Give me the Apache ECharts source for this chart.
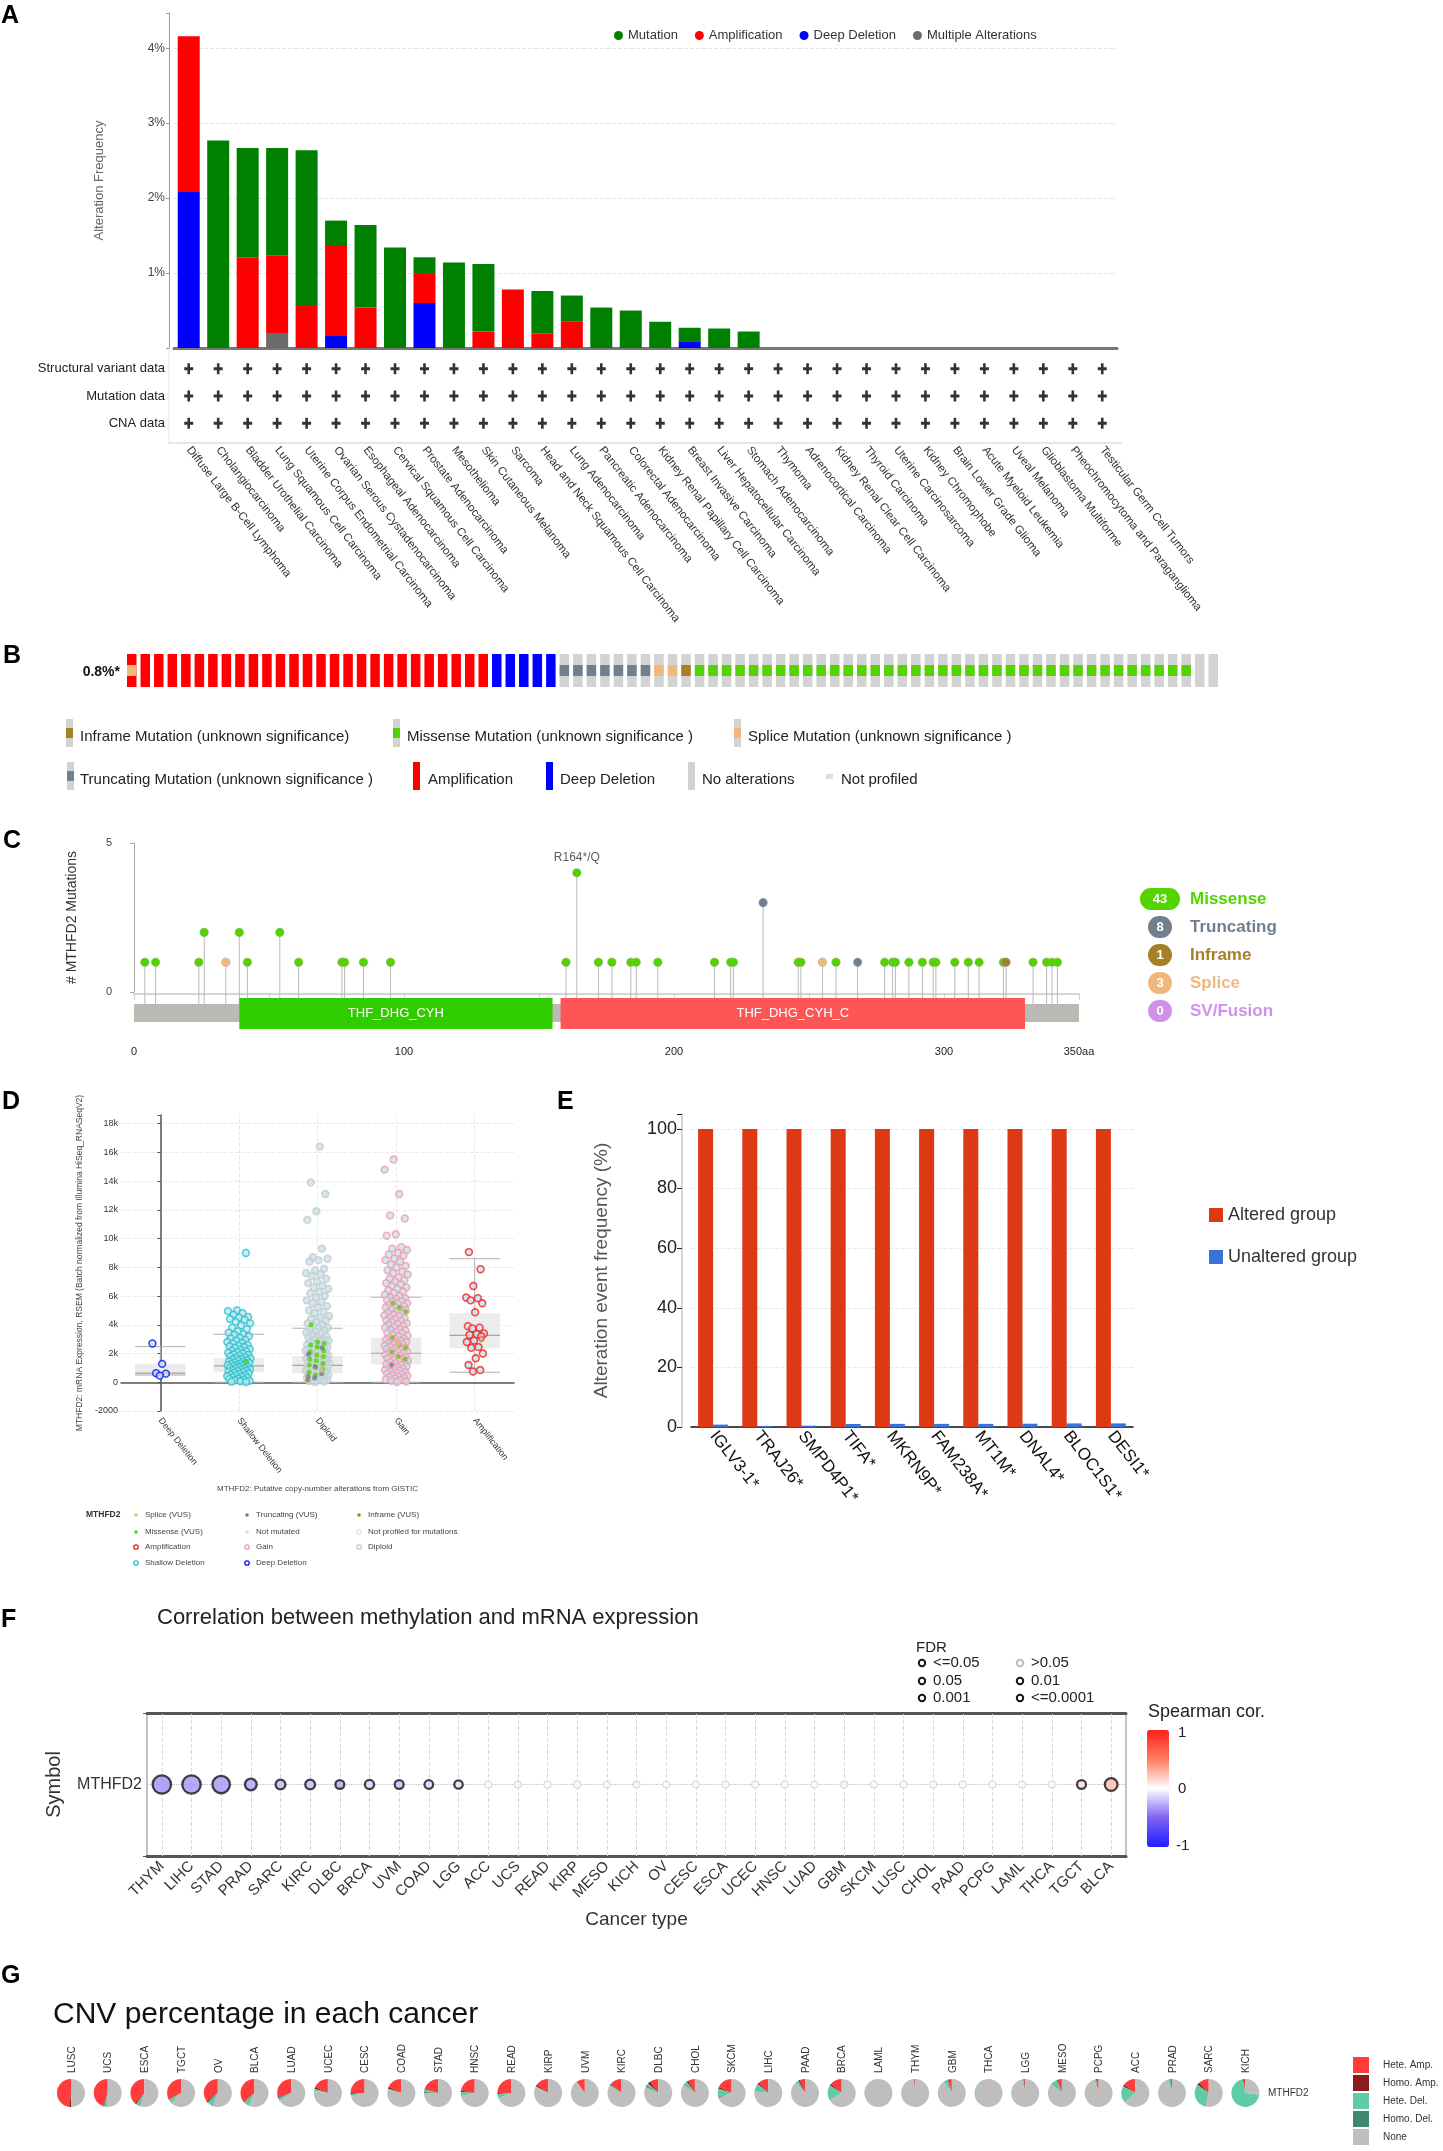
<!DOCTYPE html>
<html><head><meta charset="utf-8">
<script src="https://cdn.jsdelivr.net/npm/echarts@6.0.0/dist/echarts.min.js"></script>
<style>html,body{margin:0;padding:0;background:#fff}#c{width:1443px;height:2151px}</style>
</head><body><div id="c"></div><script>
// ---------------- Panel A data ----------------
const aCategories = ['Diffuse Large B-Cell Lymphoma','Cholangiocarcinoma','Bladder Urothelial Carcinoma','Lung Squamous Cell Carcinoma','Uterine Corpus Endometrial Carcinoma','Ovarian Serous Cystadenocarcinoma','Esophageal Adenocarcinoma','Cervical Squamous Cell Carcinoma','Prostate Adenocarcinoma','Mesothelioma','Skin Cutaneous Melanoma','Sarcoma','Head and Neck Squamous Cell Carcinoma','Lung Adenocarcinoma','Pancreatic Adenocarcinoma','Colorectal Adenocarcinoma','Kidney Renal Papillary Cell Carcinoma','Breast Invasive Carcinoma','Liver Hepatocellular Carcinoma','Stomach Adenocarcinoma','Thymoma','Adrenocortical Carcinoma','Kidney Renal Clear Cell Carcinoma','Thyroid Carcinoma','Uterine Carcinosarcoma','Kidney Chromophobe','Brain Lower Grade Glioma','Acute Myeloid Leukemia','Uveal Melanoma','Glioblastoma Multiforme','Pheochromocytoma and Paraganglioma','Testicular Germ Cell Tumors'];
const aMutation      = [0, 2.77, 1.46, 1.44, 2.08, 0.34, 1.10, 1.34, 0.21, 1.14, 0.90, 0, 0.57, 0.35, 0.54, 0.50, 0.35, 0.18, 0.26, 0.22, 0,0,0,0,0,0,0,0,0,0,0,0];
const aAmplification = [2.08, 0, 1.21, 1.03, 0.56, 1.20, 0.54, 0, 0.40, 0, 0.22, 0.78, 0.19, 0.35, 0, 0, 0, 0, 0, 0, 0,0,0,0,0,0,0,0,0,0,0,0];
const aDeepDeletion  = [2.08, 0, 0, 0, 0, 0.16, 0, 0, 0.60, 0, 0, 0, 0, 0, 0, 0, 0, 0.09, 0, 0, 0,0,0,0,0,0,0,0,0,0,0,0];
const aMultiple      = [0, 0, 0, 0.20, 0, 0, 0, 0, 0, 0, 0, 0, 0, 0, 0, 0, 0, 0, 0, 0, 0,0,0,0,0,0,0,0,0,0,0,0];
const aRows = ['CNA data', 'Mutation data', 'Structural variant data'];
const aProfiled = ['++++++++++++++++++++++++++++++++', '++++++++++++++++++++++++++++++++', '++++++++++++++++++++++++++++++++'];
const aTicks = ['1%', '2%', '3%', '4%'];

// ---------------- Panel B data ----------------
const bLabel = '0.8%*';
const bCnaRuns = [['AMP', 27], ['HOMDEL', 5], ['NONE', 49]];
const bMutRuns = [['SPLICE', 1], ['', 31], ['TRUNC', 7], ['SPLICE', 2], ['INFRAME', 1], ['MISSENSE', 37], ['', 2]];

// ---------------- Panel C data ----------------
const cLength = 350;
const cPositions = [4, 8, 24, 26, 34, 39, 42, 54, 61, 77, 78, 85, 95, 160, 164, 172, 177, 184, 186, 194, 215, 221, 222, 233, 246, 247, 255, 260, 268, 278, 281, 282, 287, 292, 296, 297, 304, 309, 313, 322, 323, 333, 338, 340, 342];
const cCounts    = [1, 1, 1, 2, 1, 2, 1, 2, 1, 1, 1, 1, 1, 1, 4, 1, 1, 1, 1, 1, 1, 1, 1, 3, 1, 1, 1, 1, 1, 1, 1, 1, 1, 1, 1, 1, 1, 1, 1, 1, 1, 1, 1, 1, 1];
const cTypes     = ['M','M','M','M','S','M','M','M','M','M','M','M','M','M','M','M','M','M','M','M','M','M','M','T','M','M','S','M','T','M','M','M','M','M','M','M','M','M','M','M','I','M','M','M','M'];
const cAnnotation = ['R164*/Q', 164, 4];
const cDomains = [['THF_DHG_CYH', 39, 155], ['THF_DHG_CYH_C', 158, 330]];
const cLegendNames = ['Missense', 'Truncating', 'Inframe', 'Splice', 'SV/Fusion'];
const cLegendCounts = [43, 8, 1, 3, 0];

// ---------------- Panel D data (values in thousands) ----------------
const dCategories = ['Deep Deletion', 'Shallow Deletion', 'Diploid', 'Gain', 'Amplification'];
const dBoxes = [[0.50, 0.50, 0.63, 1.28, 2.48], [0, 0.70, 1.14, 1.67, 3.34], [0, 0.63, 1.18, 1.83, 3.76], [0, 1.23, 2.02, 3.09, 5.92], [0.70, 2.37, 3.27, 4.80, 8.60]];
const dDeepVals = [2.7, 1.28, 0.63, 0.6, 0.46];
const dShallowVals = [9.0, 5.0, 4.95, 4.8, 4.7, 4.55, 4.5, 4.4, 4.35, 4.2, 4.1, 3.95, 3.8, 3.7, 3.55, 3.45, 3.35, 3.3, 3.2, 3.1, 3.05, 2.95, 2.9, 2.8, 2.75, 2.7, 2.6, 2.55, 2.5, 2.45, 2.4, 2.3, 2.25, 2.2, 2.15, 2.1, 2.05, 2.0, 1.95, 1.9, 1.85, 1.8, 1.75, 1.7, 1.66, 1.62, 1.58, 1.55, 1.5, 1.46, 1.42, 1.38, 1.35, 1.3, 1.27, 1.24, 1.2, 1.17, 1.14, 1.1, 1.07, 1.04, 1.0, 0.97, 0.94, 0.9, 0.87, 0.84, 0.8, 0.77, 0.74, 0.7, 0.66, 0.62, 0.58, 0.54, 0.5, 0.46, 0.42, 0.38, 0.34, 0.3, 0.26, 0.22, 0.18, 0.14, 0.1, 0.07, 0.04, 0.02];
const dDiploidVals = [16.4, 13.9, 13.1, 11.9, 11.3, 9.3, 8.7, 8.6, 8.5, 8.4, 7.9, 7.8, 7.6, 7.5, 7.4, 7.2, 7.0, 6.9, 6.7, 6.6, 6.5, 6.3, 6.2, 6.0, 5.9, 5.7, 5.6, 5.5, 5.3, 5.2, 5.0, 4.9, 4.8, 4.6, 4.5, 4.4, 4.3, 4.2, 4.1, 4.0, 3.9, 3.8, 3.75, 3.7, 3.6, 3.5, 3.45, 3.4, 3.3, 3.2, 3.15, 3.1, 3.0, 2.95, 2.9, 2.85, 2.8, 2.7, 2.65, 2.6, 2.55, 2.5, 2.45, 2.4, 2.35, 2.3, 2.25, 2.2, 2.15, 2.1, 2.05, 2.0, 1.96, 1.92, 1.88, 1.84, 1.8, 1.76, 1.72, 1.68, 1.64, 1.6, 1.56, 1.52, 1.48, 1.44, 1.4, 1.36, 1.32, 1.28, 1.24, 1.2, 1.16, 1.12, 1.08, 1.04, 1.0, 0.96, 0.92, 0.88, 0.84, 0.8, 0.76, 0.72, 0.68, 0.64, 0.6, 0.56, 0.52, 0.48, 0.44, 0.4, 0.36, 0.32, 0.28, 0.24, 0.2, 0.16, 0.12, 0.08, 0.05, 0.02];
const dGainVals = [15.5, 14.8, 13.1, 11.6, 11.4, 10.3, 10.2, 9.4, 9.3, 9.2, 9.0, 8.9, 8.8, 8.6, 8.5, 8.4, 8.2, 8.1, 8.0, 7.8, 7.7, 7.6, 7.5, 7.3, 7.2, 7.1, 7.0, 6.9, 6.8, 6.7, 6.6, 6.5, 6.4, 6.3, 6.2, 6.1, 6.0, 5.9, 5.85, 5.8, 5.7, 5.65, 5.6, 5.5, 5.45, 5.4, 5.3, 5.25, 5.2, 5.1, 5.05, 5.0, 4.9, 4.85, 4.8, 4.7, 4.65, 4.6, 4.5, 4.45, 4.4, 4.3, 4.25, 4.2, 4.1, 4.05, 4.0, 3.9, 3.85, 3.8, 3.7, 3.65, 3.6, 3.5, 3.45, 3.4, 3.3, 3.25, 3.2, 3.1, 3.05, 3.0, 2.95, 2.9, 2.85, 2.8, 2.75, 2.7, 2.65, 2.6, 2.55, 2.5, 2.45, 2.4, 2.35, 2.3, 2.25, 2.2, 2.15, 2.1, 2.05, 2.0, 1.95, 1.9, 1.85, 1.8, 1.75, 1.7, 1.65, 1.6, 1.55, 1.5, 1.45, 1.4, 1.35, 1.3, 1.25, 1.2, 1.15, 1.1, 1.05, 1.0, 0.95, 0.9, 0.85, 0.8, 0.75, 0.7, 0.65, 0.6, 0.55, 0.5, 0.45, 0.4, 0.35, 0.3, 0.25, 0.2, 0.15, 0.1, 0.05, 0.02];
const dAmpVals = [9.06, 7.87, 6.7, 5.9, 5.85, 5.7, 5.5, 4.87, 3.9, 3.8, 3.75, 3.4, 3.35, 3.3, 3.2, 2.9, 2.8, 2.45, 2.4, 2.0, 1.67, 1.2, 0.85, 0.75];
const dMutGroup = [1, 2,2,2,2,2,2,2,2,2,2,2,2,2,2,2,2,2, 2,2,2,2,2,2, 2, 2, 3,3,3,3,3,3,3,3,3, 3, 3, 4];
const dMutVals  = [1.45, 4.0,2.8,2.7,2.6,2.45,2.2,2.1,1.9,1.8,1.6,1.5,1.3,1.2,1.05,0.9,0.7,0.5, 2.4,1.95,1.1,0.6,0.4,0.3, 0.85, 0.15, 5.5,5.2,4.9,3.1,2.6,2.4,2.1,1.8,1.6, 1.2, 2.7, 3.0];
const dMutTypes = ['M', 'M','M','M','M','M','M','M','M','M','M','M','M','M','M','M','M','M', 'T','T','T','T','T','T', 'S', 'I', 'M','M','M','M','M','M','M','M','M', 'T', 'S', 'S'];

// ---------------- Panel E data ----------------
const eGenes = ['IGLV3-1*', 'TRAJ26*', 'SMPD4P1*', 'TIFA*', 'MKRN9P*', 'FAM238A*', 'MT1M*', 'DNAL4*', 'BLOC1S1*', 'DESI1*'];
const eAltered = [100, 100, 100, 100, 100, 100, 100, 100, 100, 100];
const eUnaltered = [0.8, 0.35, 0.45, 1.0, 1.05, 1.05, 1.05, 1.1, 1.2, 1.2];

// ---------------- Panel F data ----------------
const fCancers = ['THYM','LIHC','STAD','PRAD','SARC','KIRC','DLBC','BRCA','UVM','COAD','LGG','ACC','UCS','READ','KIRP','MESO','KICH','OV','CESC','ESCA','UCEC','HNSC','LUAD','GBM','SKCM','LUSC','CHOL','PAAD','PCPG','LAML','THCA','TGCT','BLCA'];
const fCor = [-0.36, -0.35, -0.34, -0.30, -0.24, -0.22, -0.28, -0.14, -0.20, -0.12, -0.10, 0.02, -0.03, 0.01, -0.02, 0.03, -0.04, 0.01, -0.01, 0.02, -0.02, 0.01, 0.0, -0.03, 0.02, 0.01, -0.02, 0.03, 0.0, 0.02, 0.01, 0.12, 0.26];
const fFdr = [1e-12, 1e-12, 1e-11, 1e-5, 1e-3, 1e-3, 0.01, 0.005, 0.01, 0.02, 0.03, 0.4, 0.6, 0.5, 0.3, 0.7, 0.5, 0.8, 0.9, 0.6, 0.5, 0.7, 0.9, 0.4, 0.6, 0.8, 0.5, 0.3, 0.9, 0.6, 0.7, 0.01, 1e-6];

// ---------------- Panel G data ----------------
const gCancers = ['LUSC','UCS','ESCA','TGCT','OV','BLCA','LUAD','UCEC','CESC','COAD','STAD','HNSC','READ','KIRP','UVM','KIRC','DLBC','CHOL','SKCM','LIHC','PAAD','BRCA','LAML','THYM','GBM','THCA','LGG','MESO','PCPG','ACC','PRAD','SARC','KICH'];
const gKinds = ['Hete. Amp.', 'Homo. Amp.', 'Hete. Del.', 'Homo. Del.', 'None'];
const gHeteAmp = [0.48,0.45,0.38,0.32,0.35,0.36,0.30,0.18,0.25,0.18,0.20,0.22,0.25,0.15,0.10,0.14,0.10,0.08,0.18,0.12,0.06,0.14,0,0.01,0.04,0.005,0.01,0.05,0.02,0.15,0.015,0.12,0.02];
const gHomoAmp = [0.02,0.01,0.02,0.01,0.02,0.01,0.01,0.02,0.01,0.02,0.01,0.02,0.01,0.02,0,0.01,0.03,0.02,0.02,0.02,0.02,0.02,0,0.005,0.01,0.005,0.01,0.01,0.01,0.02,0.005,0.03,0.01];
const gHeteDel = [0.01,0.03,0.04,0.05,0.06,0.06,0.04,0.02,0.03,0.01,0.03,0.04,0.05,0.01,0,0.02,0.03,0.04,0.10,0.08,0.04,0.16,0,0,0.05,0,0.02,0.06,0.02,0.18,0.03,0.30,0.70];
const gHomoDel = [0,0.005,0.01,0,0.01,0.005,0,0.005,0,0,0.01,0.005,0,0,0,0,0.02,0.01,0.01,0.01,0,0.01,0,0,0,0,0,0.01,0,0.01,0,0.01,0];

// ================= build =================
const FONT = '"Liberation Sans", Arial, Helvetica, sans-serif';
const chart = echarts.init(document.getElementById('c'), null, {renderer: 'canvas'});

const bCna = [], bMut = [];
bCnaRuns.forEach(([t, n]) => { for (let k = 0; k < n; k++) bCna.push(t); });
bMutRuns.forEach(([t, n]) => { for (let k = 0; k < n; k++) bMut.push(t); });
const bIdx = bCna.map((_, i) => String(i));
const bCnaColors = {AMP: '#ff0000', HOMDEL: '#0000ff', NONE: '#d3d3d3'};
const bMutColors = {MISSENSE: '#53d400', TRUNC: '#708090', SPLICE: '#f0b87b', INFRAME: '#a68028'};
const cTypeColors = {M: '#53d400', T: '#708090', S: '#f0b87b', I: '#a68028'};
const cLegendColors = ['#53d400', '#708090', '#a68028', '#f0b87b', '#ce92e8'];
const dRingColors = ['#1010ff', '#27c4cc', '#c9c9c9', '#f59aac', '#ff1a1a'];
const dSpread = [0.1, 0.15, 0.15, 0.15, 0.12];
const dSets = [dDeepVals, dShallowVals, dDiploidVals, dGainVals, dAmpVals];
const gColors = ['#ff3b3b', '#8b1c1c', '#5fcca5', '#3f8a6e', '#bebebe'];
const jitter = (j, w) => (((j * 0.6180339887) % 1) - 0.5) * 2 * w;

const series = [];
// A bars
[['Deep Deletion', aDeepDeletion, '#0000ff'], ['Multiple Alterations', aMultiple, '#6b6b6b'], ['Amplification', aAmplification, '#ff0000'], ['Mutation', aMutation, '#008000']].forEach(([n, d, c]) => {
  series.push({type: 'bar', name: n, xAxisIndex: 0, yAxisIndex: 0, stack: 'a', barWidth: 22, data: d, itemStyle: {color: c}, silent: true});
});
// A plus grid
const plusData = [];
aProfiled.forEach((s, r) => { for (let c = 0; c < s.length; c++) if (s[c] === '+') plusData.push([c, r]); });
series.push({type: 'scatter', xAxisIndex: 1, yAxisIndex: 1, data: plusData, symbol: 'path://M3.2,0H5.8V3.6H9V6.4H5.8V10H3.2V6.4H0V3.6H3.2Z', symbolSize: [9, 11], itemStyle: {color: '#000'}, silent: true});
// B
series.push({type: 'bar', xAxisIndex: 2, yAxisIndex: 2, barWidth: 9.5, barGap: '-100%', silent: true,
  data: bCna.map(t => ({value: 3, itemStyle: {color: bCnaColors[t]}}))});
series.push({type: 'bar', xAxisIndex: 2, yAxisIndex: 2, barWidth: 9.5, barGap: '-100%', stack: 'm', silent: true,
  data: bMut.map(t => t ? 1 : 0), itemStyle: {color: 'rgba(0,0,0,0)'}});
series.push({type: 'bar', xAxisIndex: 2, yAxisIndex: 2, barWidth: 9.5, barGap: '-100%', stack: 'm', silent: true,
  data: bMut.map(t => t ? {value: 1, itemStyle: {color: bMutColors[t]}} : 0)});
// C lollipops
series.push({type: 'custom', xAxisIndex: 3, yAxisIndex: 3, clip: false, z: 3, silent: true,
  data: cPositions.map((p, i) => [p, cCounts[i]]),
  renderItem: (params, api) => {
    const top = api.coord([api.value(0), api.value(1)]);
    const base = api.coord([api.value(0), -0.4]);
    const col = cTypeColors[cTypes[params.dataIndex]];
    return {type: 'group', children: [
      {type: 'line', shape: {x1: top[0], y1: base[1], x2: top[0], y2: top[1]}, style: {stroke: '#b8b8b8', lineWidth: 1}},
      {type: 'circle', shape: {cx: top[0], cy: top[1], r: 4.3}, style: {fill: col, stroke: '#a0a0a0', lineWidth: 0.4}}
    ]};
  }});
series.push({type: 'scatter', xAxisIndex: 3, yAxisIndex: 3, symbolSize: 1, itemStyle: {color: 'rgba(0,0,0,0)'}, silent: true,
  data: [[cAnnotation[1], cAnnotation[2]]],
  label: {show: true, formatter: cAnnotation[0], position: 'top', distance: 9, fontSize: 12, color: '#333', fontFamily: FONT}});
// C backbone + domains
series.push({type: 'custom', xAxisIndex: 4, yAxisIndex: 4, clip: false, z: 2, silent: true, data: [[0, cLength]],
  renderItem: (params, api) => {
    const a = api.coord([api.value(0), 10]), b = api.coord([api.value(1), 28]);
    return {type: 'rect', shape: {x: a[0], y: a[1], width: b[0] - a[0], height: b[1] - a[1]}, style: {fill: '#bbbbb5'}};
  }});
series.push({type: 'custom', xAxisIndex: 4, yAxisIndex: 4, clip: false, z: 5, silent: true,
  data: cDomains.map(d => [d[1], d[2]]),
  renderItem: (params, api) => {
    const a = api.coord([api.value(0), 4]), b = api.coord([api.value(1), 35]);
    const col = params.dataIndex === 0 ? '#2fcc00' : '#ff5555';
    return {type: 'group', children: [
      {type: 'rect', shape: {x: a[0], y: a[1], width: b[0] - a[0], height: b[1] - a[1]}, style: {fill: col}},
      {type: 'text', style: {text: cDomains[params.dataIndex][0], x: (a[0] + b[0]) / 2, y: (a[1] + b[1]) / 2, fill: '#fff', fontSize: 13, fontFamily: FONT, align: 'center', verticalAlign: 'middle'}}
    ]};
  }});
// D boxes
series.push({type: 'custom', xAxisIndex: 6, yAxisIndex: 5, z: 1, silent: true,
  data: dBoxes.map((b, i) => [i].concat(b)),
  renderItem: (params, api) => {
    const i = api.value(0), hw = 0.32;
    const q1 = api.coord([i - hw, api.value(2)]), q3 = api.coord([i + hw, api.value(4)]);
    const med = api.coord([i, api.value(3)]), lo = api.coord([i, api.value(1)]), hi = api.coord([i, api.value(5)]);
    const xl = q1[0], xr = q3[0], st = {stroke: '#b0b0b0', lineWidth: 1};
    return {type: 'group', children: [
      {type: 'line', shape: {x1: med[0], y1: lo[1], x2: med[0], y2: hi[1]}, style: st},
      {type: 'rect', shape: {x: xl, y: q3[1], width: xr - xl, height: q1[1] - q3[1]}, style: {fill: '#ececec'}},
      {type: 'line', shape: {x1: xl, y1: med[1], x2: xr, y2: med[1]}, style: {stroke: '#a5a5a5', lineWidth: 1.2}},
      {type: 'line', shape: {x1: xl, y1: lo[1], x2: xr, y2: lo[1]}, style: st},
      {type: 'line', shape: {x1: xl, y1: hi[1], x2: xr, y2: hi[1]}, style: st}
    ]};
  }});
dSets.forEach((vals, g) => {
  const s = {type: 'scatter', xAxisIndex: 6, yAxisIndex: 5, z: 3, silent: true, symbolSize: 6.8,
    data: vals.map((v, j) => [g + jitter(j + g * 11, dSpread[g]), v]),
    itemStyle: {color: '#c2e3ef', borderColor: dRingColors[g], borderWidth: 1.6}};
  if (g === 0) s.markLine = {silent: true, symbol: ['none', 'none'], label: {show: false}, z: 0,
    lineStyle: {type: 'dashed', color: '#e8e8e8', width: 1}, data: dCategories.map((_, k) => ({xAxis: k}))};
  series.push(s);
});
series.push({type: 'scatter', xAxisIndex: 6, yAxisIndex: 5, z: 4, silent: true, symbolSize: 5,
  data: dMutVals.map((v, j) => ({value: [dMutGroup[j] + jitter(j * 7 + 3, dSpread[dMutGroup[j]] * 0.85), v],
    itemStyle: {color: cTypeColors[dMutTypes[j]], borderColor: dMutGroup[j] === 2 ? 'rgba(0,0,0,0)' : dRingColors[dMutGroup[j]], borderWidth: 1}}))});
// E
series.push({type: 'bar', name: 'Altered group', xAxisIndex: 7, yAxisIndex: 6, data: eAltered, barWidth: 15, barGap: '0%', itemStyle: {color: '#dc3914'}, silent: true});
series.push({type: 'bar', name: 'Unaltered group', xAxisIndex: 7, yAxisIndex: 6, data: eUnaltered, barWidth: 15, barGap: '0%', itemStyle: {color: '#3b72d8'}, silent: true});
// F
const fIdx = series.length;
series.push({type: 'scatter', xAxisIndex: 8, yAxisIndex: 7, z: 3, silent: true,
  data: fCancers.map((c, i) => {
    const sig = fFdr[i] <= 0.05;
    return {value: [i, 0, fCor[i], fFdr[i]], symbolSize: 7 + Math.min(-Math.log10(fFdr[i]), 12) * 0.95,
      itemStyle: {borderColor: sig ? '#151515' : '#c8c8c8', borderWidth: sig ? 2.3 : 1}};
  }),
  markLine: {silent: true, symbol: ['none', 'none'], label: {show: false}, z: 1,
    data: fCancers.map(c => ({xAxis: c, lineStyle: {type: 'dashed', color: '#dadada', width: 1}}))
      .concat([{yAxis: 'MTHFD2', lineStyle: {type: 'dotted', color: '#bdbdbd', width: 1.2}}])}});
// G pies
gCancers.forEach((c, i) => {
  const v = [gHeteAmp[i], gHomoAmp[i], gHeteDel[i], gHomoDel[i]];
  v.push(Math.max(0, 1 - v.reduce((a, b) => a + b, 0)));
  series.push({type: 'pie', center: [71 + 36.7 * i, 2093], radius: [0, 14], startAngle: 90, clockwise: false,
    silent: true, label: {show: false}, labelLine: {show: false}, itemStyle: {borderWidth: 0},
    data: gKinds.map((k, j) => ({name: k, value: v[j], itemStyle: {color: gColors[j]}}))});
});

// ---------------- graphic ----------------
const gfx = [];
const T = (x, y, text, o = {}) => gfx.push({type: 'text', x, y, rotation: o.rot || 0, silent: true,
  style: {text, fill: o.color || '#222', fontSize: o.size || 12, fontFamily: FONT, fontWeight: o.weight || 'normal',
    align: o.align || 'left', verticalAlign: o.va || 'middle'}});
const R = (x, y, w, h, fill, r) => gfx.push({type: 'rect', silent: true, shape: {x, y, width: w, height: h, r: r || 0}, style: {fill}});
const L = (x1, y1, x2, y2, stroke, w) => gfx.push({type: 'line', silent: true, shape: {x1, y1, x2, y2}, style: {stroke, lineWidth: w || 1}});
const C = (cx, cy, r, fill, stroke, w) => gfx.push({type: 'circle', silent: true, shape: {cx, cy, r}, style: {fill, stroke, lineWidth: w || 1}});

// panel letters
[['A', 1, 16], ['B', 3, 656], ['C', 3, 841], ['D', 2, 1102], ['E', 557, 1102], ['F', 1, 1620], ['G', 1, 1976]].forEach(([l, x, y]) => T(x, y, l, {size: 25, weight: 'bold', color: '#000'}));
// A frame
L(169, 348, 169, 443, '#e6e6e6', 1);
L(168, 443, 1122, 443, '#e6e6e6', 2);
// B
T(120, 672, bLabel, {size: 14, weight: 'bold', align: 'right', color: '#111'});
const bGlyph = (x, yc, kind) => {
  if (kind === 'NP') { R(x, yc - 2, 7, 5, '#dedede'); return; }
  if (kind === 'AMP' || kind === 'HOMDEL') { R(x, yc - 14, 7, 28, bCnaColors[kind]); return; }
  R(x, yc - 14, 7, 28, '#d3d3d3');
  if (kind !== 'NONE') R(x, yc - 5, 7, 10, bMutColors[kind]);
};
[[66, 80, 733, 'Inframe Mutation (unknown significance)', 'INFRAME'], [393, 407, 733, 'Missense Mutation (unknown significance )', 'MISSENSE'], [734, 748, 733, 'Splice Mutation (unknown significance )', 'SPLICE'],
 [67, 80, 776, 'Truncating Mutation (unknown significance )', 'TRUNC'], [413, 428, 776, 'Amplification', 'AMP'], [546, 560, 776, 'Deep Deletion', 'HOMDEL'], [688, 702, 776, 'No alterations', 'NONE'], [826, 841, 776, 'Not profiled', 'NP']]
  .forEach(([gx, tx, y, t, k]) => { bGlyph(gx, y, k); T(tx, y + 4, t, {size: 15, color: '#222'}); });
// C legend
cLegendNames.forEach((n, i) => {
  const cy = 899 + 28 * i, w = String(cLegendCounts[i]).length > 1 ? 40 : 24;
  R(1160 - w / 2, cy - 11, w, 22, cLegendColors[i], 11);
  T(1160, cy, String(cLegendCounts[i]), {size: 13, weight: 'bold', color: '#fff', align: 'center'});
  T(1190, cy, n, {size: 17, weight: 'bold', color: cLegendColors[i]});
});
// D legend
T(86, 1515, 'MTHFD2', {size: 8.5, weight: 'bold', color: '#333'});
[[0, 0, 'Splice (VUS)', '#f0b87b', null], [1, 0, 'Truncating (VUS)', '#708090', null], [2, 0, 'Inframe (VUS)', '#a68028', null],
 [0, 1, 'Missense (VUS)', '#53d400', null], [1, 1, 'Not mutated', '#c2e3ef', null], [2, 1, 'Not profiled for mutations', '#ffffff', '#e4e4e4'],
 [0, 2, 'Amplification', '#ffffff', '#ff1a1a'], [1, 2, 'Gain', '#ffffff', '#f59aac'], [2, 2, 'Diploid', '#ffffff', '#c9c9c9'],
 [0, 3, 'Shallow Deletion', '#ffffff', '#27c4cc'], [1, 3, 'Deep Deletion', '#ffffff', '#1010ff']].forEach(([c, r, t, f, s]) => {
  const x = [136, 247, 359][c], y = [1515, 1532, 1547, 1563][r];
  if (s) C(x, y, 2.2, f, s, 1.3); else C(x, y, 1.8, f, null, 0);
  T(x + 9, y, t, {size: 8, color: '#444'});
});
// F extras
T(157, 1618, 'Correlation between methylation and mRNA expression', {size: 22, color: '#222'});
T(916, 1648, 'FDR', {size: 15, color: '#222'});
[[922, 1663, '<=0.05', '#151515'], [1020, 1663, '>0.05', '#bdbdbd'], [922, 1681, '0.05', '#151515'], [1020, 1681, '0.01', '#151515'], [922, 1698, '0.001', '#151515'], [1020, 1698, '<=0.0001', '#151515']]
  .forEach(([x, y, t, s]) => { C(x, y, 3.2, '#fff', s, 2); T(x + 11, y, t, {size: 15, color: '#222'}); });
T(1148, 1712, 'Spearman cor.', {size: 18, color: '#222'});
T(1178, 1733, '1', {size: 15, color: '#222'});
T(1178, 1789, '0', {size: 15, color: '#222'});
T(1176, 1846, '-1', {size: 15, color: '#222'});
// G extras
T(53, 2015, 'CNV percentage in each cancer', {size: 30, color: '#111'});
gCancers.forEach((c, i) => T(71 + 36.7 * i + 1, 2073, c, {size: 10, color: '#333', rot: Math.PI / 2}));
T(1268, 2093, 'MTHFD2', {size: 10, color: '#333'});

// ---------------- option ----------------
const noB = {outerBoundsMode: 'none'};
const option = {
  animation: false,
  backgroundColor: '#ffffff',
  textStyle: {fontFamily: FONT},
  grid: [
    Object.assign({left: 174, top: 13, width: 943, height: 335}, noB),
    Object.assign({left: 174, top: 355, width: 943, height: 82}, noB),
    Object.assign({left: 125, top: 654, width: 1095, height: 33}, noB),
    Object.assign({left: 134, top: 843, width: 945, height: 149}, noB),
    Object.assign({left: 134, top: 994, width: 945, height: 42}, noB),
    Object.assign({left: 121, top: 1115, width: 393, height: 296}, noB),
    Object.assign({left: 691, top: 1114, width: 442, height: 313}, noB),
    Object.assign({left: 147, top: 1713, width: 979, height: 143, show: true, borderColor: '#888', borderWidth: 1}, noB)
  ],
  xAxis: [
    {gridIndex: 0, type: 'category', data: aCategories, axisLine: {lineStyle: {color: '#777', width: 3}}, axisTick: {show: false}, axisLabel: {show: false}},
    {gridIndex: 1, type: 'category', data: aCategories, axisLine: {show: false}, axisTick: {show: false}, axisLabel: {rotate: -52, fontSize: 11.5, color: '#333', margin: 11, interval: 0}},
    {gridIndex: 2, type: 'category', data: bIdx, show: false},
    {gridIndex: 3, type: 'value', min: 0, max: cLength, show: false},
    {gridIndex: 4, type: 'value', min: 0, max: cLength, interval: 50, axisLine: {show: true, lineStyle: {color: '#d5d5d5', width: 2}}, axisTick: {show: true, length: 6, lineStyle: {color: '#cfcfcf'}},
      axisLabel: {formatter: v => v === cLength ? cLength + 'aa' : (v % 100 === 0 ? String(v) : ''), fontSize: 11, color: '#222', margin: 10}, splitLine: {show: false}},
    {gridIndex: 5, type: 'category', data: dCategories, axisLine: {lineStyle: {color: '#555', width: 1.5}}, axisTick: {alignWithLabel: true, length: 4, lineStyle: {color: '#555'}},
      axisLabel: {rotate: -52, fontSize: 9, color: '#333', margin: 8, interval: 0},
      name: 'MTHFD2: Putative copy-number alterations from GISTIC', nameLocation: 'middle', nameGap: 74, nameTextStyle: {fontSize: 8, color: '#444'}},
    {gridIndex: 5, type: 'value', min: -0.5, max: 4.5, show: false},
    {gridIndex: 6, type: 'category', data: eGenes, axisLine: {lineStyle: {color: '#111', width: 1.5}}, axisTick: {show: false}, axisLabel: {rotate: -52, fontSize: 17, color: '#111', margin: 6, interval: 0}},
    {gridIndex: 7, type: 'category', data: fCancers, axisLine: {lineStyle: {color: '#555', width: 3}}, axisTick: {alignWithLabel: true, length: 5, lineStyle: {color: '#555'}},
      axisLabel: {rotate: 45, fontSize: 15, color: '#333', margin: 8, interval: 0}, name: 'Cancer type', nameLocation: 'middle', nameGap: 54, nameTextStyle: {fontSize: 19, color: '#333'}},
    {gridIndex: 7, type: 'category', data: fCancers, position: 'top', axisLine: {lineStyle: {color: '#555', width: 3}}, axisTick: {show: false}, axisLabel: {show: false}}
  ],
  yAxis: [
    {gridIndex: 0, type: 'value', min: 0, max: 4.47, interval: 1, offset: 5, axisLine: {show: true, lineStyle: {color: '#9a9a9a'}}, axisTick: {show: true, length: 3, lineStyle: {color: '#9a9a9a'}},
      axisLabel: {formatter: v => (v > 0 && Number.isInteger(v)) ? aTicks[v - 1] : '', fontSize: 12, color: '#444', margin: 4},
      splitLine: {showMaxLine: false, showMinLine: false, lineStyle: {type: 'dashed', color: '#e4e4e4'}}, name: 'Alteration Frequency', nameLocation: 'middle', nameGap: 63, nameTextStyle: {fontSize: 13, color: '#666'}},
    {gridIndex: 1, type: 'category', data: aRows, axisLine: {show: false}, axisTick: {show: false}, axisLabel: {fontSize: 13, color: '#222', margin: 9}},
    {gridIndex: 2, type: 'value', min: 0, max: 3, show: false},
    {gridIndex: 3, type: 'value', min: 0, max: 5, interval: 5, offset: 18, axisLine: {show: true, lineStyle: {color: '#aaa'}}, axisTick: {show: true, length: 4, lineStyle: {color: '#aaa'}},
      axisLabel: {fontSize: 11, color: '#444', margin: 4}, splitLine: {show: false}, name: '# MTHFD2 Mutations', nameLocation: 'middle', nameGap: 37, nameTextStyle: {fontSize: 14, color: '#333'}},
    {gridIndex: 4, type: 'value', min: 0, max: 42, inverse: true, show: false},
    {gridIndex: 5, type: 'value', min: -2, max: 18.6, interval: 2, axisLine: {show: true, lineStyle: {color: '#555', width: 1.5}}, axisTick: {show: true, length: 3, lineStyle: {color: '#555'}},
      axisLabel: {formatter: v => v === 0 ? '0' : (v < 0 ? String(v * 1000) : (Number.isInteger(v) ? v + 'k' : '')), fontSize: 9, color: '#333', margin: 3},
      splitLine: {showMaxLine: false, lineStyle: {type: 'dashed', color: '#ebebeb'}},
      name: 'MTHFD2: mRNA Expression, RSEM (Batch normalized from Illumina HiSeq_RNASeqV2)', nameLocation: 'middle', nameGap: 37, nameTextStyle: {fontSize: 8.5, color: '#444'}},
    {gridIndex: 6, type: 'value', min: 0, max: 105, interval: 20, offset: 9, axisLine: {show: true, lineStyle: {color: '#c8c8c8', width: 1.5}}, axisTick: {show: true, length: 5, lineStyle: {color: '#222'}},
      axisLabel: {formatter: v => v % 20 === 0 ? String(v) : '', fontSize: 18, color: '#222', margin: 5}, splitLine: {showMaxLine: false, lineStyle: {type: 'dashed', color: '#e6e9ee'}},
      name: 'Alteration event frequency (%)', nameLocation: 'middle', nameGap: 71, nameTextStyle: {fontSize: 19, color: '#555'}},
    {gridIndex: 7, type: 'category', data: ['MTHFD2'], axisLine: {show: false}, axisTick: {show: true, length: 4, lineStyle: {color: '#555'}},
      axisLabel: {fontSize: 16, color: '#333', margin: 5}, name: 'Symbol', nameLocation: 'middle', nameGap: 83, nameTextStyle: {fontSize: 20, color: '#333'}}
  ],
  legend: [
    {data: ['Mutation', 'Amplification', 'Deep Deletion', 'Multiple Alterations'], left: 614, top: 29, padding: 0, icon: 'circle', itemWidth: 9, itemHeight: 9, itemGap: 17, selectedMode: false, textStyle: {fontSize: 13, color: '#333'}},
    {data: ['Altered group', 'Unaltered group'], orient: 'vertical', left: 1209, top: 1206, padding: 0, icon: 'rect', itemWidth: 14, itemHeight: 14, itemGap: 24, selectedMode: false, textStyle: {fontSize: 18, color: '#333'}},
    {data: gKinds, orient: 'vertical', left: 1353, top: 2057, padding: 0, icon: 'rect', itemWidth: 16, itemHeight: 16, itemGap: 2, selectedMode: false, textStyle: {fontSize: 10, color: '#333', padding: [0, 0, 0, 9]}}
  ],
  visualMap: [{type: 'continuous', seriesIndex: fIdx, dimension: 2, min: -1, max: 1, calculable: false, orient: 'vertical', left: 1147, top: 1730, itemWidth: 22, itemHeight: 117, padding: 0, text: null,
    inRange: {color: ['#1f1fff', '#7f63f2', '#ffffff', '#ff7d5e', '#ff1f1f']}}],
  series: series,
  graphic: gfx
};
chart.setOption(option);
</script></body></html>
